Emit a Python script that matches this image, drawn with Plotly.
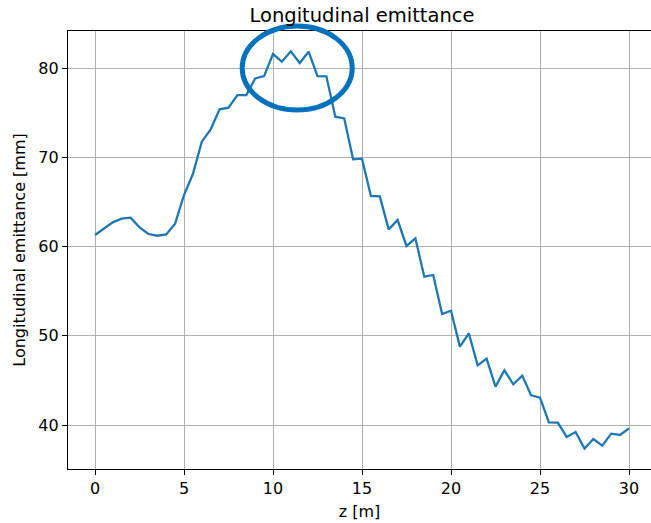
import plotly.graph_objects as go

# ---- data ----
z_m = [i * 0.5 for i in range(61)]
emittance_mm = [
    61.29, 62.04, 62.71, 63.12, 63.23, 62.15, 61.40, 61.21, 61.36, 62.56,
    65.77, 68.12, 71.75, 73.13, 75.37, 75.56, 76.97, 76.97, 78.84, 79.10,
    81.57, 80.71, 81.87, 80.56, 81.83, 79.10, 79.07, 74.55, 74.36, 69.77,
    69.84, 65.66, 65.62, 61.92, 62.97, 60.06, 60.92, 56.62, 56.81, 52.44,
    52.81, 48.78, 50.27, 46.69, 47.43, 44.30, 46.13, 44.56, 45.53, 43.33,
    43.06, 40.30, 40.26, 38.66, 39.22, 37.35, 38.43, 37.69, 39.03, 38.88,
    39.63,
]
x_ticks = [0, 5, 10, 15, 20, 25, 30]
y_ticks = [40, 50, 60, 70, 80]

# highlight ellipse (data coordinates)
ell_cx, ell_cy = 11.36, 80.0
ell_rx, ell_ry = 3.09, 4.7

x_range = [-1.517, 31.236]
y_range = [35.07, 84.15]

def px(v, r):
    return (v - r[0]) / (r[1] - r[0])

fig = go.Figure()
fig.add_trace(go.Scatter(
    x=z_m, y=emittance_mm, mode="lines",
    line=dict(color="#1f77b4", width=2.3),
    showlegend=False,
))

fig.add_shape(
    type="circle", xref="paper", yref="paper",
    x0=px(ell_cx - ell_rx, x_range), x1=px(ell_cx + ell_rx, x_range),
    y0=px(ell_cy - ell_ry, y_range), y1=px(ell_cy + ell_ry, y_range),
    line=dict(color="rgb(0,114,189)", width=5),
    fillcolor="rgba(0,0,0,0)",
)

fam = "DejaVu Sans"
fig.update_layout(
    width=651, height=523,
    margin=dict(l=68, r=0, t=31, b=54),
    paper_bgcolor="white", plot_bgcolor="white",
    font=dict(family=fam, size=16, color="black"),
    title=dict(text="Longitudinal emittance", font=dict(family=fam, size=19.5, color="black"),
               x=362 / 651, xref="container", xanchor="center",
               y=1 - 15 / 523, yref="container", yanchor="middle"),
    xaxis=dict(
        range=x_range, tickvals=x_ticks, ticktext=[str(t) for t in x_ticks],
        showgrid=True, gridcolor="#b0b0b0", gridwidth=1.2,
        showline=True, linecolor="black", linewidth=1.2, mirror=True,
        ticks="outside", ticklen=5, tickwidth=1.2, tickcolor="black",
        tickfont=dict(family=fam, size=16, color="black"),
        title=dict(text="z [m]", font=dict(family=fam, size=16, color="black"), standoff=8),
        zeroline=False,
    ),
    yaxis=dict(
        range=y_range, tickvals=y_ticks, ticktext=[str(t) for t in y_ticks],
        showgrid=True, gridcolor="#b0b0b0", gridwidth=1.2,
        showline=True, linecolor="black", linewidth=1.2, mirror=False,
        ticks="outside", ticklen=5, tickwidth=1.2, tickcolor="black",
        tickfont=dict(family=fam, size=16, color="black"),
        title=dict(text="Longitudinal emittance [mm]", font=dict(family=fam, size=16, color="black"), standoff=8),
        zeroline=False,
    ),
)

fig.write_html("out.html")
